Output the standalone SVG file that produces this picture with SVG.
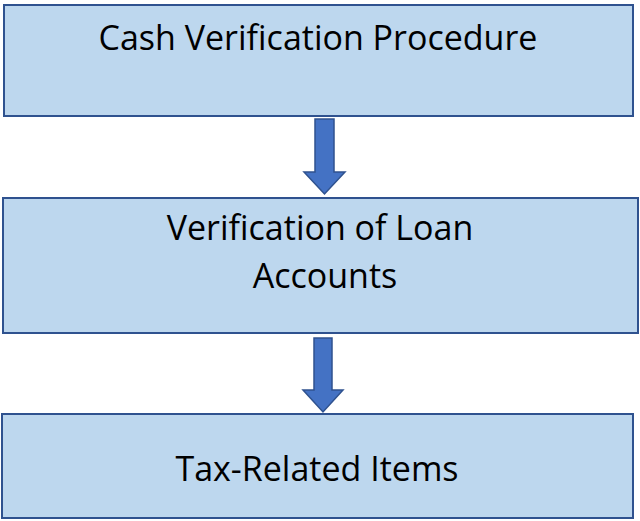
<svg xmlns="http://www.w3.org/2000/svg" width="640" height="521" viewBox="0 0 640 521">
<style>
.box{fill:#bdd7ee;stroke:#2f528f;stroke-width:2}
.t{font-family:"Open Sans","Liberation Sans",sans-serif;font-size:34px;fill:#000;text-anchor:middle}
.arr{fill:#4472c4;stroke:#2f528f;stroke-width:1.5}
</style>
<rect width="640" height="521" fill="#fff"/>
<g id="n1"><rect class="box" x="4" y="5" width="629" height="111"/><text class="t" x="318" y="50">Cash Verification Procedure</text></g>
<g id="n2"><rect class="box" x="3" y="198" width="635" height="135"/><text class="t" x="320" y="240">Verification of Loan</text><text class="t" x="325" y="288">Accounts</text></g>
<g id="n3"><rect class="box" x="2" y="414" width="631" height="104"/><text class="t" x="317" y="481">Tax-Related Items</text></g>
<g id="connectors">
<polygon class="arr" points="315,119 334,119 334,172 345,172 324.5,194 304,172 315,172"/>
<polygon class="arr" points="314,338 332,338 332,390 343,390 323,412 303,390 314,390"/>
</g>
</svg>
